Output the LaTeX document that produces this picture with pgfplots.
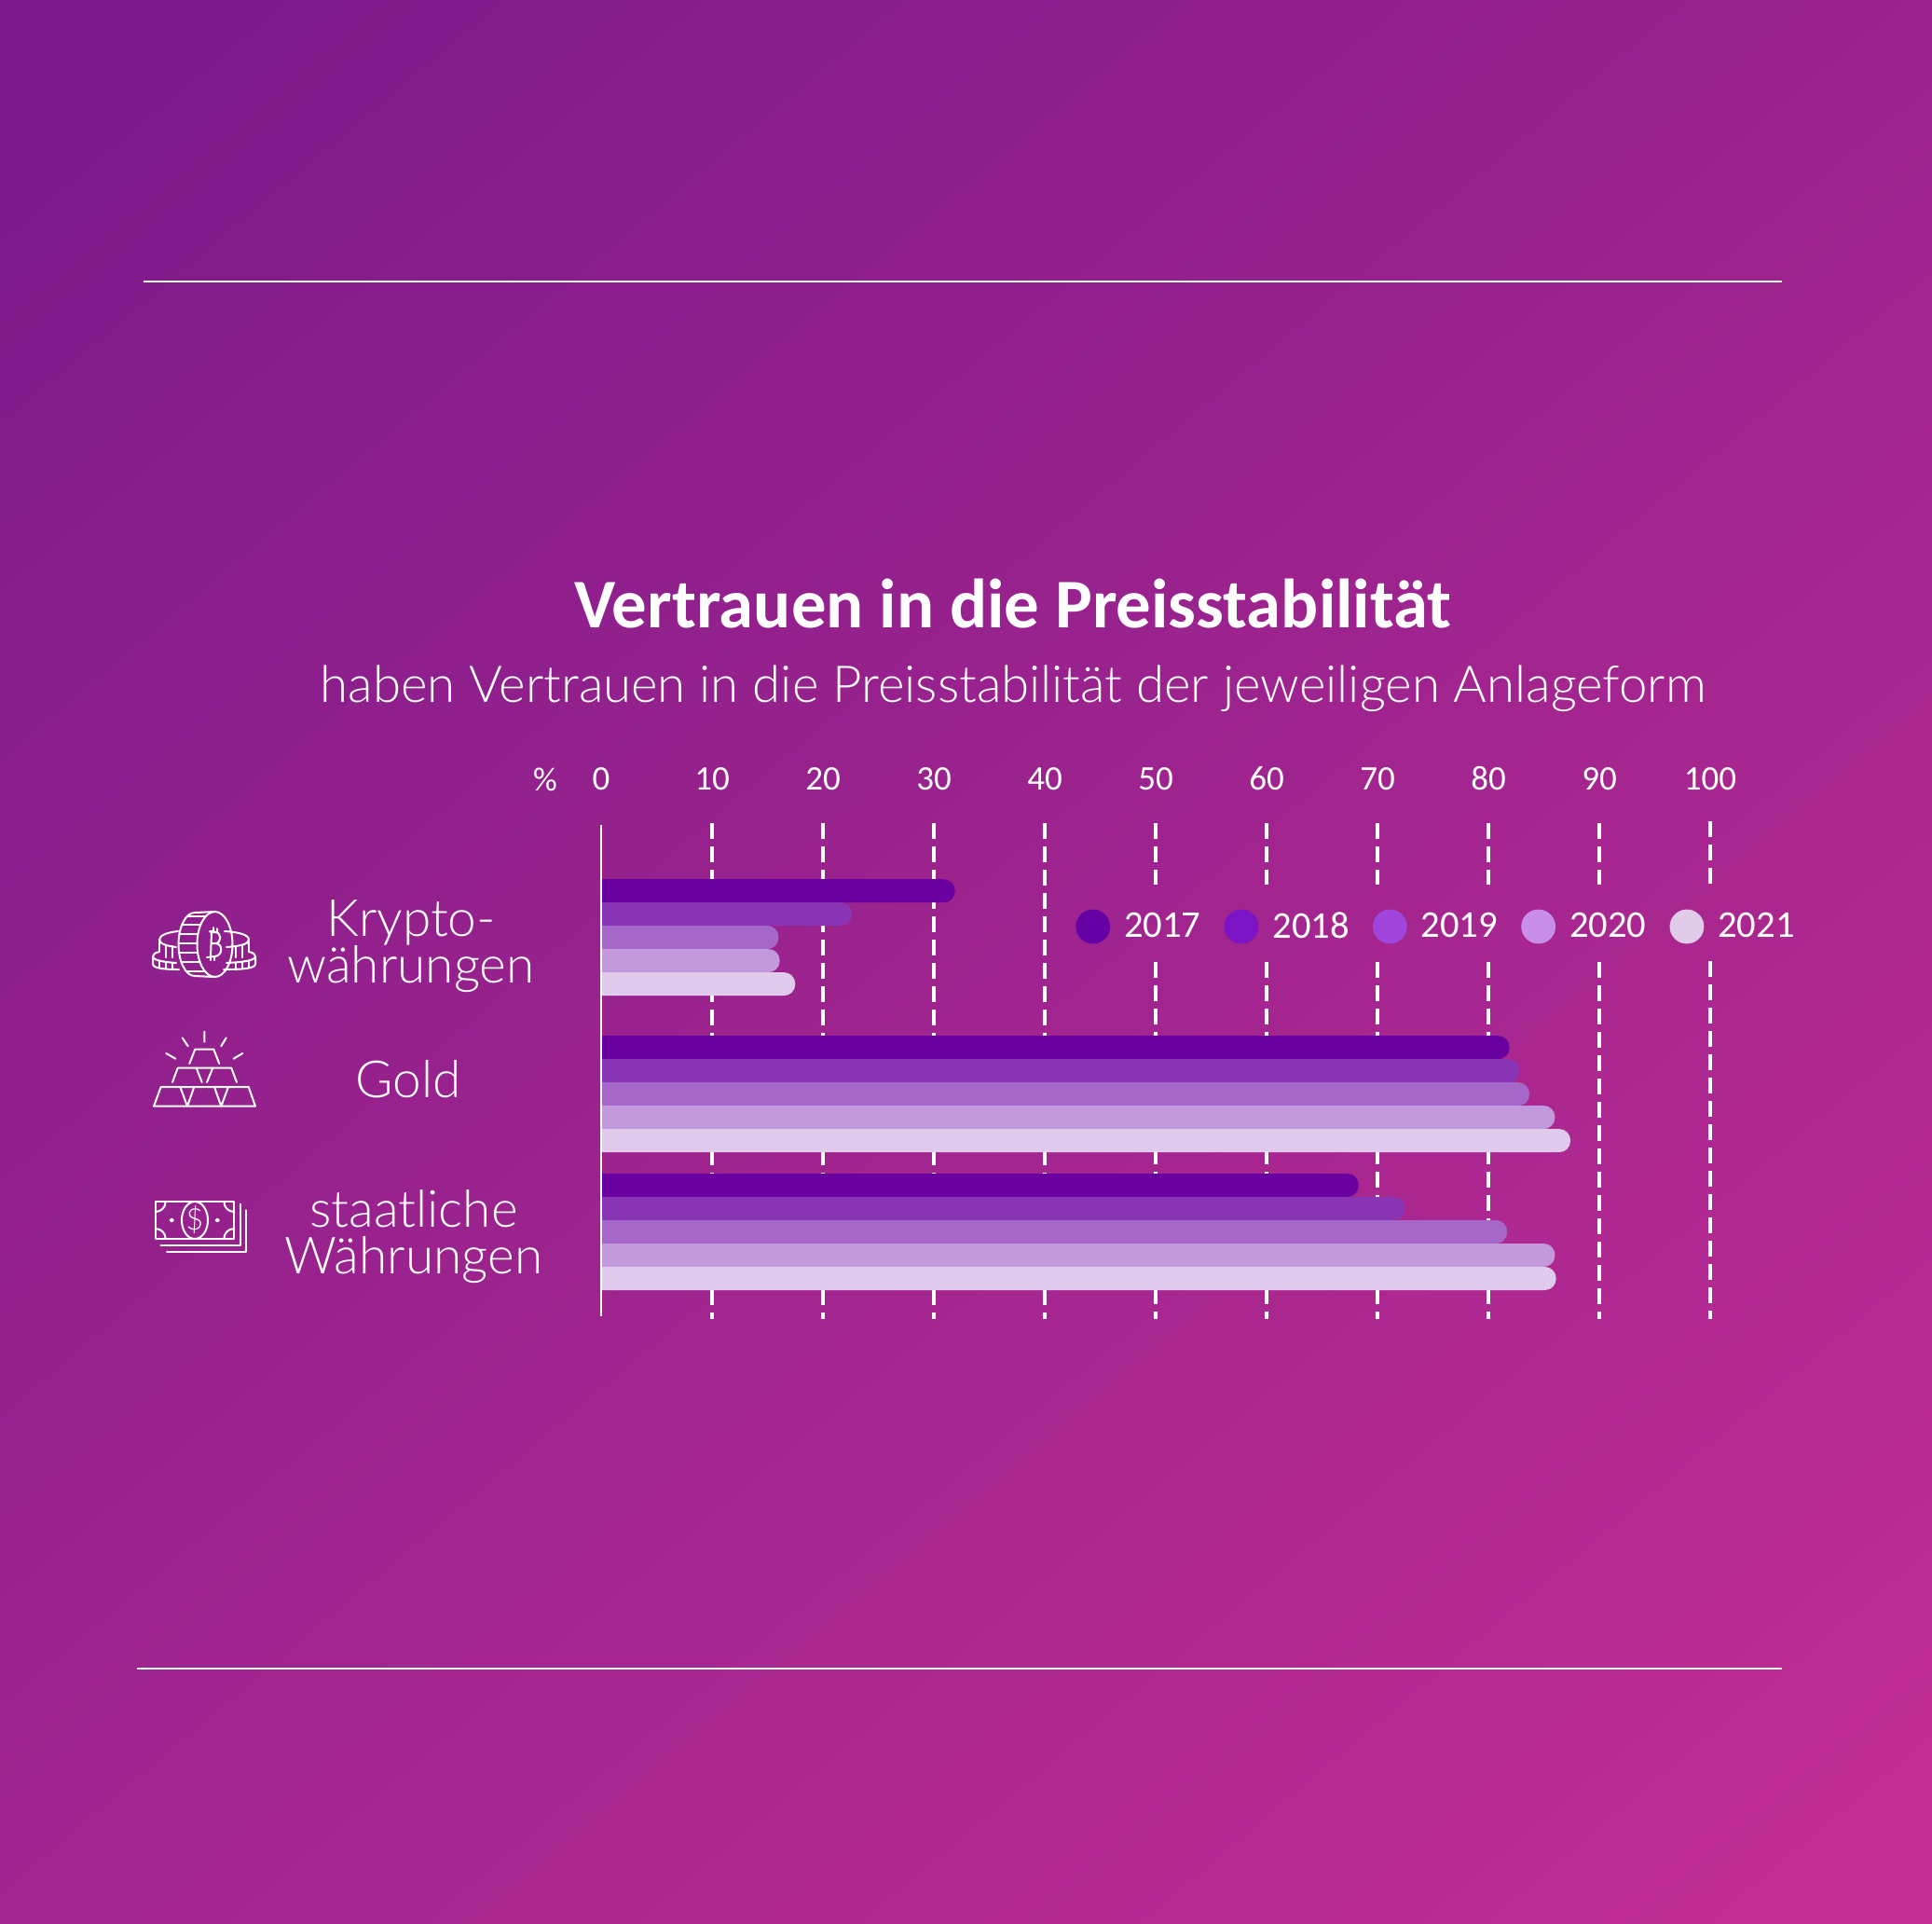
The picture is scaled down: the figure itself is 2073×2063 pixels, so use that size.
\documentclass[border=0pt]{standalone}
\usepackage{pgfplots}
\usepackage{pgfplotstable}
\pgfplotsset{compat=1.18}
\usepackage{fontspec}
\setmainfont{Carlito}
\newfontfamily\lightf{Lato Light}
\definecolor{bgA}{HTML}{7C1A8A}
\definecolor{bgB}{HTML}{C02D93}
\definecolor{cA}{HTML}{6A00A0}
\definecolor{cB}{HTML}{8935B5}
\definecolor{cC}{HTML}{A668C8}
\definecolor{cD}{HTML}{C299DA}
\definecolor{cE}{HTML}{E0CBEC}
\definecolor{lA}{HTML}{6400A4}
\definecolor{lB}{HTML}{7A14C4}
\definecolor{lC}{HTML}{9F45DC}
\definecolor{lD}{HTML}{C78EEA}
\definecolor{lE}{HTML}{E0CBE9}
\pgfdeclareverticalshading{bgsh}{100bp}{color(0bp)=(bgB); color(18bp)=(bgB); color(82bp)=(bgA); color(100bp)=(bgA)}
% y = position of the bar, in pixels of the reference; v = per cent
\pgfplotstableread{
y v
955.6 31.9
1123.7 81.9
1271.5 68.3
}\sA
\pgfplotstableread{
y v
980.6 22.6
1148.7 82.8
1296.5 72.5
}\sB
\pgfplotstableread{
y v
1005.6 16.0
1173.6 83.7
1321.5 81.7
}\sC
\pgfplotstableread{
y v
1030.6 16.1
1198.6 86.0
1346.5 86.0
}\sD
\pgfplotstableread{
y v
1055.6 17.5
1223.6 87.4
1371.5 86.1
}\sE
\pgfplotsset{
  rbar/.style={xbar,bar shift=0pt,bar width=12.5pt,draw=none,fill=#1,rounded corners=6pt,forget plot},
  sbar/.style={xbar,bar shift=0pt,bar width=12.5pt,draw=none,fill=#1,forget plot},
  grd/.style={sharp plot,white,line width=2pt,dash pattern=on 8.5pt off 4pt,forget plot,no marks},
}
\begin{document}
\begin{tikzpicture}
\begin{scope}[x=0.5pt,y=-0.5pt]
\shade[shading=bgsh,shading angle=40] (0,0) rectangle (2073,2063);
\useasboundingbox (0,0) rectangle (2073,2063);
\draw[white,line width=1.2pt] (154,302)--(1912,302);
\draw[white,line width=1.2pt] (147,1790)--(1912,1790);
\node[white,font=\fontsize{37.4}{37.4}\selectfont\bfseries] at (1087,648) {Vertrauen in die Preisstabilität};
\node[white,font=\fontsize{27.3}{27.3}\selectfont\lightf] at (1087,739) {haben Vertrauen in die Preisstabilität der jeweiligen Anlageform};
\node[white,font=\fontsize{18}{18}\selectfont] at (585,836) {\%};
\node[white,align=center,font=\fontsize{27.5}{25}\selectfont\lightf] at (441,1015) {Krypto-\\währungen};
\node[white,font=\fontsize{27.5}{25}\selectfont\lightf] at (438,1158) {Gold};
\node[white,align=center,font=\fontsize{27.5}{25}\selectfont\lightf] at (444,1327) {staatliche\\Währungen};
% icons
\begin{scope}[white,line width=1pt,line cap=round,line join=round]
 % coin
 \draw (230.5,1013) ellipse [x radius=19,y radius=35];
 \draw (209,979) .. controls (199,979) and (191.5,995) .. (191.5,1013) .. controls (191.5,1031) and (199,1047) .. (209,1047);
 \draw (209,979)--(230.5,978) (209,1047)--(230.5,1048);
 \foreach \yy in {983,992,1002,1012,1022,1032,1042}{
   \pgfmathsetmacro\xa{209-17.5*sqrt(1-((\yy-1013)/34)^2)}
   \pgfmathsetmacro\xb{230.5-19*sqrt(1-((\yy-1013)/35)^2)}
   \draw (\xa,\yy)--(\xb,\yy);
 }
 \foreach \s in {1,-1}{
 \begin{scope}[shift={(219,0)},xscale=\s]
  \draw (-25-\s*3,999) .. controls (-38,1000) and (-48,1003) .. (-48,1008) .. controls (-48,1013) and (-38,1015) .. (-27-\s*3,1016);
  \draw (-48,1008)--(-48,1021);
  \draw (-41,1014)--(-41,1027) (-34,1015)--(-34,1027);
  \draw (-48,1021) .. controls (-53,1022) and (-55,1024) .. (-55,1026) .. controls (-55,1030) and (-44,1032) .. (-27-\s*3,1033);
  \draw (-55,1026)--(-55,1034) .. controls (-55,1039) and (-42,1040) .. (-24-\s*3,1040);
  \draw (-48,1031)--(-48,1038) (-41,1032)--(-41,1039) (-34,1033)--(-34,1040);
 \end{scope}}
 \draw (226,1000)--(231,1000) .. controls (238,1000) and (238,1012) .. (231,1012) -- (227,1012) (231,1012) .. controls (240,1012) and (239,1026) .. (230,1026) -- (222,1027);
 \draw (227,1000)--(226,1027) (225,999)--(230,999) (229,995)--(229,1000) (233,996)--(233,1000) (226,1027)--(226,1030) (230,1026)--(230,1030);
 % gold
 \draw (219.3,1106.7)--(219.3,1117.7) (195.7,1113.3)--(201.7,1122.3) (242.7,1113.3)--(237.3,1122.3) (178.3,1130)--(188.3,1135.7) (260.3,1130)--(250.7,1135.7);
 \draw (203.3,1141)--(209.3,1125.7)--(229.3,1125.7)--(235.3,1141);
 \draw (185,1161)--(190.7,1145.7)--(248.3,1145.7)--(254,1161);
 \draw (210.7,1145.7)--(216.7,1161) (228.3,1145.7)--(222,1161);
 \draw (165,1186.7)--(172.7,1166)--(266.7,1166)--(274,1186.7)--cycle;
 \draw (193.3,1166)--(201,1186.7)--(208.3,1166) (230,1166)--(237.3,1186.7)--(245,1166);
 % money
 \draw (166.7,1289) rectangle (251.3,1329);
 \draw (209,1309) ellipse [x radius=14,y radius=20];
 \draw (184.3,1309) circle [radius=1.5] (233.3,1309) circle [radius=1.5];
 \draw (166.7,1300) .. controls (173,1300) and (177.7,1295) .. (177.7,1289);
 \draw (251.3,1300) .. controls (245,1300) and (240.3,1295) .. (240.3,1289);
 \draw (166.7,1318) .. controls (173,1318) and (177.7,1323) .. (177.7,1329);
 \draw (251.3,1318) .. controls (245,1318) and (240.3,1323) .. (240.3,1329);
 \node[font=\fontsize{16}{16}\selectfont\lightf] at (209,1309) {\$};
 \draw (172.7,1335.7)--(257.7,1335.7)--(257.7,1291.7);
 \draw (179,1342.7)--(264.3,1342.7)--(264.3,1298.3);
\end{scope}
\end{scope}
\begin{axis}[
  at={(322.5pt,-707.5pt)},anchor=south west,
  scale only axis,width=595pt,height=266pt,
  xmin=0,xmax=100,ymin=883,ymax=1415,y dir=reverse,
  clip=false,
  axis line style={draw=none},
  major tick length=0pt,
  ytick=\empty,
  xtick={0,10,...,100},
  xticklabel pos=top,
  xticklabel style={white,anchor=base,yshift=17.75pt,font=\fontsize{18.5}{18.5}\selectfont,/pgf/number format/assume math mode=true},
  legend columns=5,
  legend cell align=left,
  legend style={at={(axis cs:42.8,994)},anchor=west,draw=none,fill=none,inner sep=0pt,outer sep=0pt,
    text=white,font=\fontsize{20.3}{20.3}\selectfont,
    /tikz/every odd column/.append style={column sep=0pt},
    /tikz/every even column/.append style={column sep=10.6pt}},
  legend image code/.code={\fill[#1] (0pt,0pt) circle (9pt); \path (14.5pt,0pt);},
]
% dashed gridlines, in pieces round the legend
\addplot[grd] coordinates {(10,883)(10,1415)};
\addplot[grd] coordinates {(20,883)(20,1415)};
\addplot[grd] coordinates {(30,883)(30,1415)};
\addplot[grd] coordinates {(40,883)(40,1415)};
\addplot[grd] coordinates {(50,883)(50,949)};
\addplot[grd] coordinates {(50,1032)(50,1415)};
\addplot[grd] coordinates {(60,883)(60,949)};
\addplot[grd] coordinates {(60,1032)(60,1415)};
\addplot[grd] coordinates {(70,883)(70,949)};
\addplot[grd] coordinates {(70,1032)(70,1415)};
\addplot[grd] coordinates {(80,883)(80,949)};
\addplot[grd] coordinates {(80,1032)(80,1415)};
\addplot[grd] coordinates {(90,883)(90,949)};
\addplot[grd] coordinates {(90,1032)(90,1415)};
\addplot[grd] coordinates {(100,881)(100,948)};
\addplot[grd] coordinates {(100,1031)(100,1415)};
% bars: the rounded bar, and a square stub at the axis end
\addplot[rbar=cA] table[x=v,y=y] {\sA};
\addplot[sbar=cA] table[x expr=1.1,y=y] {\sA};
\addplot[rbar=cB] table[x=v,y=y] {\sB};
\addplot[sbar=cB] table[x expr=1.1,y=y] {\sB};
\addplot[rbar=cC] table[x=v,y=y] {\sC};
\addplot[sbar=cC] table[x expr=1.1,y=y] {\sC};
\addplot[rbar=cD] table[x=v,y=y] {\sD};
\addplot[sbar=cD] table[x expr=1.1,y=y] {\sD};
\addplot[rbar=cE] table[x=v,y=y] {\sE};
\addplot[sbar=cE] table[x expr=1.1,y=y] {\sE};
\addplot[sharp plot,white,line width=1.1pt,forget plot,no marks] coordinates {(0,885)(0,1412)};
\addlegendimage{lA}\addlegendentry{2017}
\addlegendimage{lB}\addlegendentry{2018}
\addlegendimage{lC}\addlegendentry{2019}
\addlegendimage{lD}\addlegendentry{2020}
\addlegendimage{lE}\addlegendentry{2021}
\end{axis}
\end{tikzpicture}
\end{document}
